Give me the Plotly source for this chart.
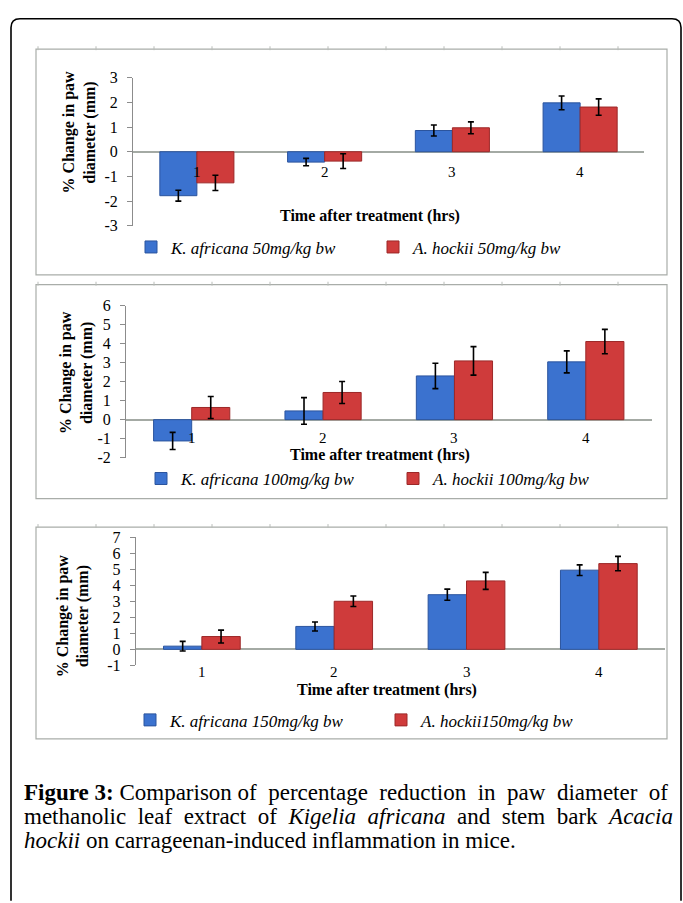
import plotly.graph_objects as go

# ---------------- data ----------------
hours = [1, 2, 3, 4]
hour_labels = ["1", "2", "3", "4"]

k50 = [-1.78, -0.42, 0.86, 1.98]
k50_err = [0.22, 0.15, 0.22, 0.28]
a50 = [-1.26, -0.38, 0.97, 1.81]
a50_err = [0.31, 0.30, 0.24, 0.33]

k100 = [-1.12, 0.46, 2.30, 3.04]
k100_err = [0.45, 0.70, 0.67, 0.58]
a100 = [0.64, 1.43, 3.09, 4.11]
a100_err = [0.58, 0.58, 0.75, 0.64]

k150 = [0.20, 1.43, 3.41, 4.94]
k150_err = [0.30, 0.28, 0.35, 0.33]
a150 = [0.80, 3.00, 4.27, 5.35]
a150_err = [0.40, 0.33, 0.53, 0.45]

names = [
    ("K. africana 50mg/kg bw", "A. hockii 50mg/kg bw"),
    ("K. africana 100mg/kg bw", "A. hockii 100mg/kg bw"),
    ("K. africana 150mg/kg bw", "A. hockii150mg/kg bw"),
]
series = [
    (k50, k50_err, a50, a50_err),
    (k100, k100_err, a100, a100_err),
    (k150, k150_err, a150, a150_err),
]
y_ticks = [
    [-3, -2, -1, 0, 1, 2, 3],
    [-2, -1, 0, 1, 2, 3, 4, 5, 6],
    [-1, 0, 1, 2, 3, 4, 5, 6, 7],
]
x_title = "Time after treatment (hrs)"
y_title = "% Change in paw<br>diameter (mm)"

# ---------------- layout geometry (pixels) ----------------
W, H = 683, 903
def px(x):
    return x / W
def py(y):
    return 1 - y / H

# per panel: x0, x1 of plot area, pixel y of range max and range min
panels = [
    dict(x0=133, x1=644, ytop=71, ybot=222, xt=(370, 212), yt=(80, 127),
         leg=(171, 413, 244), lab_ref="zero", lab_shift=-20),
    dict(x0=126, x1=651.5, ytop=303.3, ybot=458.3, xt=(380, 456), yt=(77, 372),
         leg=(181, 433, 480), lab_ref="zero", lab_shift=-18),
    dict(x0=135.7, x1=665, ytop=539.3, ybot=670, xt=(387, 695), yt=(73, 620),
         leg=(170, 421, 726), lab_ref="min", lab_shift=-7),
]
frames = [(36, 42, 667, 272), (36, 282, 667, 500), (36, 529, 667, 745)]

BLUE = "#3b72cf"
BLUE_EDGE = "#2b549e"
RED = "#cf3b3b"
RED_EDGE = "#9c2828"
SERIF = "Liberation Serif"

fig = go.Figure()
layout = dict(
    width=W, height=H, autosize=False,
    margin=dict(l=0, r=0, t=0, b=0),
    paper_bgcolor="white", plot_bgcolor="white",
    barmode="group", bargap=0.42, bargroupgap=0.0,
    font=dict(family=SERIF, color="black", size=15),
    showlegend=True,
)
annotations = []
shapes = []

for i, (p, (kv, ke, av, ae), (kn, an), yt) in enumerate(zip(panels, series, names, y_ticks)):
    n = i + 1
    xa = "x" if n == 1 else f"x{n}"
    ya = "y" if n == 1 else f"y{n}"
    lg1 = "legend" if n == 1 else f"legend{2 * n - 1}"
    lg2 = f"legend{2 * n}"
    fig.add_trace(go.Bar(
        x=hours, y=kv, name=kn, xaxis=xa, yaxis=ya, legend=lg1,
        marker=dict(color=BLUE, line=dict(color=BLUE_EDGE, width=1)),
        error_y=dict(type="data", array=ke, visible=True, color="black", thickness=1.6, width=3),
    ))
    fig.add_trace(go.Bar(
        x=hours, y=av, name=an, xaxis=xa, yaxis=ya, legend=lg2,
        marker=dict(color=RED, line=dict(color=RED_EDGE, width=1)),
        error_y=dict(type="data", array=ae, visible=True, color="black", thickness=1.6, width=3),
    ))
    xkey = "xaxis" if n == 1 else f"xaxis{n}"
    ykey = "yaxis" if n == 1 else f"yaxis{n}"
    layout[xkey] = dict(
        domain=[px(p["x0"]), px(p["x1"])], anchor=ya, range=[0.5, 4.5],
        showticklabels=False, showline=False, zeroline=False, showgrid=False,
        ticks="", fixedrange=True,
    )
    layout[ykey] = dict(
        domain=[py(p["ybot"]), py(p["ytop"])], anchor=xa, range=[yt[0], yt[-1]],
        tickmode="array", tickvals=yt, ticktext=[str(v) for v in yt],
        showline=True, linecolor="#8c8c8c", linewidth=1,
        ticks="outside", ticklen=5, tickcolor="#8c8c8c", ticklabelstandoff=6,
        showgrid=False, zeroline=True, zerolinecolor="#a4aaa4", zerolinewidth=2,
        tickfont=dict(family=SERIF, size=16, color="black"), fixedrange=True,
    )
    # category labels
    ylab = 0 if p["lab_ref"] == "zero" else yt[0]
    for h, t in zip(hours, hour_labels):
        annotations.append(dict(
            x=h, y=ylab, xref=xa, yref=ya, text=t, showarrow=False,
            yanchor="middle", yshift=p["lab_shift"],
            font=dict(family=SERIF, size=15, color="black"),
        ))
    # axis titles
    annotations.append(dict(
        x=px(p["xt"][0]), y=py(p["xt"][1]), xref="paper", yref="paper",
        text=f"<b>{x_title}</b>", showarrow=False, xanchor="center", yanchor="middle",
        font=dict(family=SERIF, size=16, color="black"),
    ))
    annotations.append(dict(
        x=px(p["yt"][0]), y=py(p["yt"][1]), xref="paper", yref="paper",
        text=f"<b>{y_title}</b>", showarrow=False, textangle=-90,
        xanchor="center", yanchor="middle",
        font=dict(family=SERIF, size=16, color="black"), align="center",
    ))
    # legends (one entry each)
    t1, t2, ly = p["leg"]
    for key, tx in ((lg1, t1), (lg2, t2)):
        layout[key] = dict(
            x=px(tx - 40), y=py(ly), xanchor="left", yanchor="middle",
            orientation="h", bgcolor="rgba(0,0,0,0)", borderwidth=0,
            font=dict(family=SERIF, size=17, style="italic", color="black"),
            itemclick=False, itemdoubleclick=False,
        )

# panel frames with small ruler ticks
for (fx0, fy0, fx1, fy1) in frames:
    shapes.append(dict(type="rect", xref="paper", yref="paper",
                       x0=px(fx0), x1=px(fx1), y0=py(fy1), y1=py(fy0),
                       line=dict(color="#a9ada9", width=1.2), fillcolor="rgba(0,0,0,0)", layer="below"))
    tx = fx0 + 2
    while tx < fx1:
        shapes.append(dict(type="line", xref="paper", yref="paper",
                           x0=px(tx), x1=px(tx), y0=py(fy0 - 3), y1=py(fy0 + 1),
                           line=dict(color="#b8bcb8", width=1)))
        tx += 58

# outer rounded frame
r = 9
L, T, R, B = 11, 11, 681, 910
path = (f"M {px(L)},{py(B)} L {px(L)},{py(T + r)} Q {px(L)},{py(T)} {px(L + r)},{py(T)} "
        f"L {px(R - r)},{py(T)} Q {px(R)},{py(T)} {px(R)},{py(T + r)} L {px(R)},{py(B)}")
shapes.append(dict(type="path", xref="paper", yref="paper", path=path,
                   line=dict(color="black", width=1.6)))

# caption (approximately justified by widening some word gaps)
W2 = "\u00a0 "
cap_lines = [
    "<b>Figure 3:</b> Comparison of" + W2 + "percentage" + W2 + "reduction"
    + W2 + "in" + W2 + "paw" + W2 + "diameter" + W2 + "of",
    W2.join(["methanolic", "leaf", "extract", "of", "<i>Kigelia", "africana</i>", "and",
             "stem", "bark", "<i>Acacia</i>"]),
    "<i>hockii</i> on carrageenan-induced inflammation in mice.",
]
cap_y = [800, 824, 848]
for t, yy in zip(cap_lines, cap_y):
    annotations.append(dict(
        x=px(22), y=py(yy), xref="paper", yref="paper", text=t, showarrow=False,
        xanchor="left", yanchor="middle", align="left",
        font=dict(family=SERIF, size=23, color="black"),
    ))

layout["annotations"] = annotations
layout["shapes"] = shapes
fig.update_layout(**layout)

fig.write_html("out.html", include_plotlyjs=True,
               config={"displayModeBar": False, "staticPlot": True},
               post_script="document.body.style.margin='0';")
